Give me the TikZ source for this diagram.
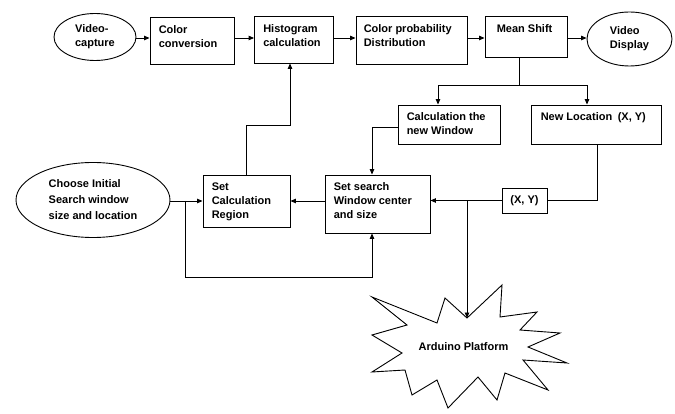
\documentclass[tikz,border=0pt]{standalone}
\usepackage{fontspec}
\setmainfont{Liberation Sans}
\usetikzlibrary{shapes.geometric,arrows.meta}
\tikzset{
  blk/.style={draw, line width=0.9pt, rectangle, inner sep=0pt},
  ell/.style={draw, line width=0.9pt, ellipse, inner sep=0pt, align=left,
    font=\fontsize{11}{14}\selectfont\bfseries},
  txt/.style={anchor=north west, inner sep=0pt, align=left,
    font=\fontsize{11}{14}\selectfont\bfseries},
  ln/.style={line width=0.9pt},
  arr/.style={line width=0.9pt, -{Triangle[length=5.5pt,width=4.5pt]}},
}
\begin{document}
\begin{tikzpicture}[x=1pt,y=-1pt]
\useasboundingbox (0,0) rectangle (675,414);
% ellipses
\node[ell, minimum width=82pt, minimum height=47pt] (vc) at (95,37) {Video-\\capture};
\node[ell, minimum width=85pt, minimum height=54pt] (vd) at (629.5,39) {Video\\Display};
\node[ell, minimum width=154pt, minimum height=75pt,
  font=\fontsize{11}{16}\selectfont\bfseries] (ci) at (93,200) {Choose Initial\\Search window\\size and location};
% boxes
\node[blk, minimum width=84pt, minimum height=47pt] (cc) at (192,40.5) {};
\node[blk, minimum width=79pt, minimum height=47pt] (hc) at (294,39.5) {};
\node[blk, minimum width=111pt, minimum height=48pt] (cp) at (411.5,40) {};
\node[blk, minimum width=82pt, minimum height=41pt] (ms) at (526,36.5) {};
\node[blk, minimum width=102pt, minimum height=39pt] (cw) at (449,124.5) {};
\node[blk, minimum width=130pt, minimum height=39pt] (nl) at (596,124.5) {};
\node[blk, minimum width=105pt, minimum height=58pt] (ss) at (377.5,204) {};
\node[blk, minimum width=87pt, minimum height=52pt] (sc) at (246.5,201) {};
\node[blk, minimum width=45pt, minimum height=25pt,
  font=\fontsize{11}{14}\selectfont\bfseries] (xy) at (524.5,200.5) {(X, Y)};
% box texts
\node[txt] (cct) at ([xshift=9pt,yshift=-9pt]cc.north west) {Color\\conversion};
\node[txt] (hct) at ([xshift=9pt,yshift=-9pt]hc.north west) {Histogram\\calculation};
\node[txt] (cpt) at ([xshift=8pt,yshift=-9pt]cp.north west) {Color probability\\Distribution};
\node[txt] (mst) at ([xshift=12pt,yshift=-9pt]ms.north west) {Mean Shift};
\node[txt] (cwt) at ([xshift=9pt,yshift=-8pt]cw.north west) {Calculation the\\new Window};
\node[txt] (nlt) at ([xshift=10pt,yshift=-8pt]nl.north west) {New Location\enspace(X, Y)};
\node[txt] (sst) at ([xshift=9pt,yshift=-8pt]ss.north west) {Set search\\Window center\\and size};
\node[txt] (sct) at ([xshift=9pt,yshift=-8pt]sc.north west) {Set\\Calculation\\Region};
% star
\draw[line width=0.9pt] (372,297) -- (437,323) -- (445,298) -- (467,318) -- (502,285)
  -- (500,317) -- (537,312) -- (520,330) -- (560,333) -- (528,347) -- (567,363)
  -- (523,360) -- (548,390) -- (505,373) -- (497,400) -- (478,377) -- (448,408)
  -- (437,380) -- (412,395) -- (405,370) -- (372,372) -- (402,353) -- (372,335)
  -- (407,325) -- cycle;
\node[inner sep=0pt, font=\fontsize{11}{14}\selectfont\bfseries] (ard) at (463.5,347) {Arduino Platform};
\coordinate (ardtip) at (467,318);
% connectors top row
\draw[arr] (vc.east |- 0,38) -- (cc.west |- 0,38);
\draw[arr] (cc.east |- 0,38) -- (hc.west |- 0,38);
\draw[arr] (hc.east |- 0,38) -- (cp.west |- 0,38);
\draw[arr] (cp.east |- 0,38) -- (ms.west |- 0,38);
\draw[arr] (ms.east |- 0,38) -- (vd.west |- 0,38);
% mean shift split
\coordinate (j1) at (519,85);
\draw[ln] (ms.south -| j1) -- (j1);
\draw[arr] (j1) -| ([xshift=-11pt]cw.north);
\draw[arr] (j1) -| ([xshift=-9pt]nl.north);
% calc new window to set search
\draw[arr] ([yshift=-2.5pt]cw.west) -| ([xshift=-5.5pt]ss.north);
% new location to (X,Y)
\draw[ln] ([xshift=1pt]nl.south) |- (xy.east);
\draw[arr] (xy.west) -- (ss.east |- xy.west);
\coordinate (b1) at (467,201);
\draw[arr] (b1) -- (ardtip);
% set search to set calc
\draw[arr] (ss.west |- sc.east) -- (sc.east);
% choose initial
\draw[arr] (ci.east |- sc.east) -- (sc.west);
\coordinate (b2) at (185,201);
\coordinate (low) at (372,277);
\draw[arr] (b2) |- (low) -- (ss.south -| low);
% set calc up to histogram
\coordinate (mid) at (290,125);
\draw[arr] (sc.north) |- (mid) -- (hc.south -| mid);
\end{tikzpicture}
\end{document}
